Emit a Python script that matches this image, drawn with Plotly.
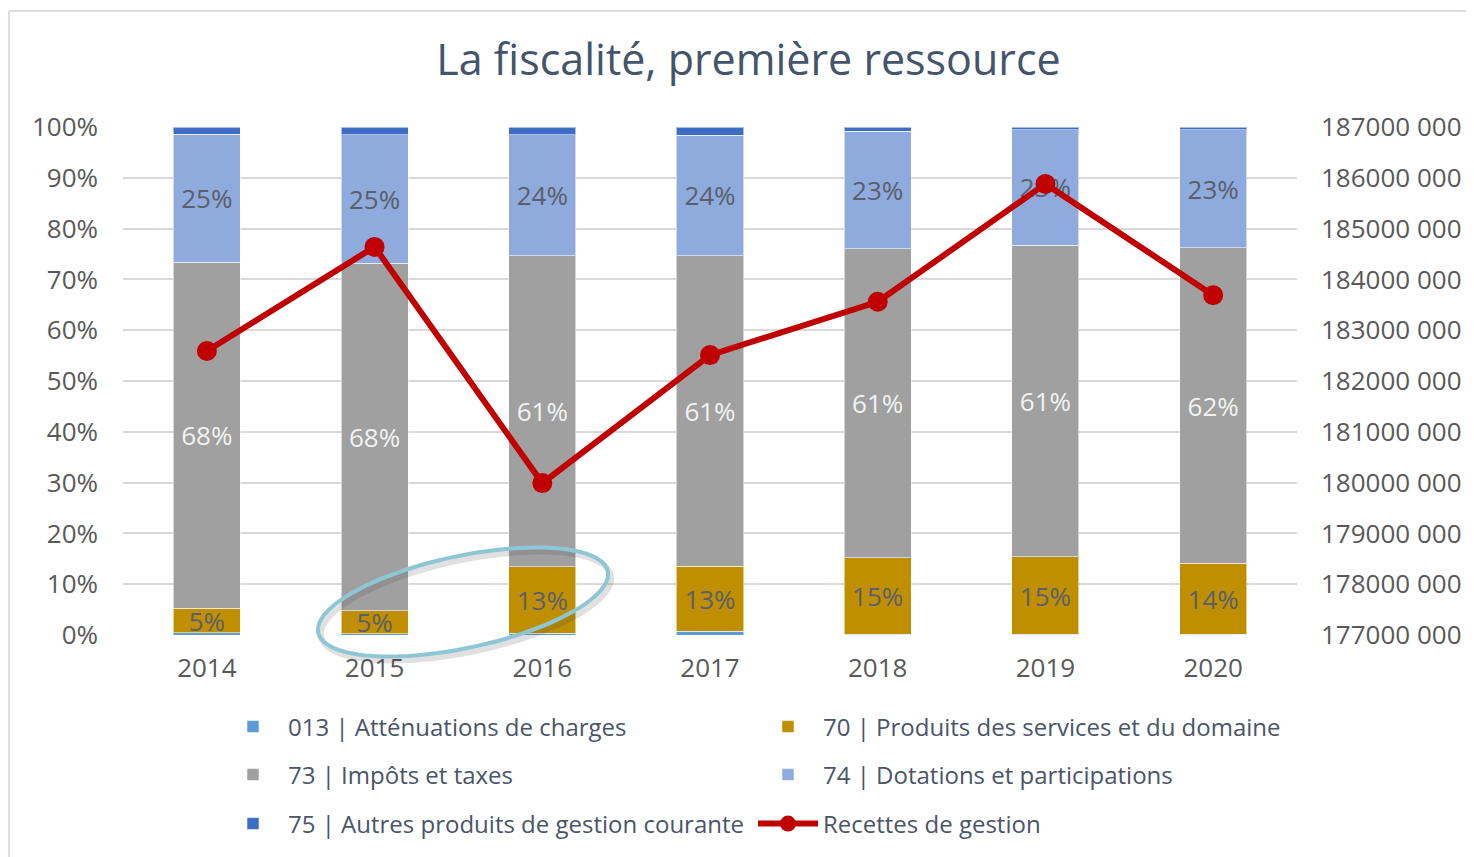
import math
import plotly.graph_objects as go

# ---------------- data ----------------
years = ["2014", "2015", "2016", "2017", "2018", "2019", "2020"]
att_013 = [0.4, 0.2, 0.3, 0.7, 0.1, 0.1, 0.1]          # % 013 | Atténuations de charges
prod_70 = [4.9, 4.6, 13.1, 12.8, 15.1, 15.3, 14.0]     # % 70 | Produits des services et du domaine
impots_73 = [68.1, 68.4, 61.3, 61.2, 60.8, 61.3, 62.1]  # % 73 | Impôts et taxes
dot_74 = [25.2, 25.3, 23.8, 23.7, 23.2, 22.8, 23.3]     # % 74 | Dotations et participations
autres_75 = [1.4, 1.5, 1.5, 1.6, 0.8, 0.5, 0.5]        # % 75 | Autres produits de gestion courante
recettes = [182590000, 184640000, 179990000, 182510000, 183560000, 185880000, 183690000]

left_ticks = [0, 10, 20, 30, 40, 50, 60, 70, 80, 90, 100]
left_labels = [f"{v}%" for v in left_ticks]
right_ticks = [177000000, 178000000, 179000000, 180000000, 181000000, 182000000,
               183000000, 184000000, 185000000, 186000000, 187000000]
right_labels = [f"{v // 1000} {v % 1000:03d}" for v in right_ticks]

FONT = "Open Sans"
OFF = 8  # page body margin of the html page
W, H = 1466, 849
L, T = 123 - OFF, 127 - OFF
R = W - (1297 - OFF)
B = H - (635 - OFF)
PW, PH = W - L - R, H - T - B


def px(x):  # page pixel -> paper x
    return (x - OFF - L) / PW


def py(y):  # page pixel -> paper y
    return (H - B - (y - OFF)) / PH


def pct_text(vals):
    return [f"{round(v)}%" for v in vals]


fig = go.Figure()
edge = dict(color="rgba(255,255,255,0.55)", width=1)
lab_dark = dict(family=FONT, size=26, color="#5A5F6B")
lab_light = dict(family=FONT, size=26, color="#F2F2F2")

fig.add_trace(go.Bar(x=years, y=att_013, name="013 | Atténuations de charges",
                     marker=dict(color="#5B9BD5", line=edge), legend="legend"))
fig.add_trace(go.Bar(x=years, y=prod_70, name="70 | Produits des services et du domaine",
                     marker=dict(color="#BF8F00", line=edge), legend="legend",
                     text=pct_text(prod_70), textposition="inside", insidetextanchor="middle",
                     constraintext="none", textangle=0, textfont=lab_dark))
fig.add_trace(go.Bar(x=years, y=impots_73, name="73 | Impôts et taxes",
                     marker=dict(color="#A0A0A0", line=edge), legend="legend2",
                     text=pct_text(impots_73), textposition="inside", insidetextanchor="middle",
                     constraintext="none", textangle=0, textfont=lab_light))
fig.add_trace(go.Bar(x=years, y=dot_74, name="74 | Dotations et participations",
                     marker=dict(color="#8FAADC", line=edge), legend="legend2",
                     text=pct_text(dot_74), textposition="inside", insidetextanchor="middle",
                     constraintext="none", textangle=0, textfont=lab_dark))
fig.add_trace(go.Bar(x=years, y=autres_75, name="75 | Autres produits de gestion courante",
                     marker=dict(color="#3F6CC4", line=edge), legend="legend3"))
fig.add_trace(go.Scatter(x=years, y=recettes, name="Recettes de gestion", yaxis="y2",
                         mode="lines+markers", legend="legend3",
                         line=dict(color="#C00000", width=6),
                         marker=dict(color="#C00000", size=20)))


# ----- ellipse highlight (pixel geometry -> paper coords) -----
def ellipse_path(cx, cy, a, b, theta_deg, dx=0, dy=0, n=90):
    th = math.radians(theta_deg)
    pts = []
    for i in range(n + 1):
        phi = 2 * math.pi * i / n
        X = cx + dx + a * math.cos(phi) * math.cos(th) - b * math.sin(phi) * math.sin(th)
        Y = cy + dy - (a * math.cos(phi) * math.sin(th) + b * math.sin(phi) * math.cos(th))
        pts.append(f"{px(X):.5f},{py(Y):.5f}")
    return "M" + " L".join(pts) + " Z"


shapes = [
    dict(type="line", xref="paper", yref="paper", x0=px(9), x1=px(1490), y0=py(11), y1=py(11),
         line=dict(color="#D9DEE6", width=2)),
    dict(type="line", xref="paper", yref="paper", x0=px(9), x1=px(9), y0=py(11), y1=py(870),
         line=dict(color="#D9DEE6", width=2)),
    dict(type="path", xref="paper", yref="paper", path=ellipse_path(463, 602, 148, 46, 12, 3, 4),
         line=dict(color="rgba(60,60,60,0.16)", width=6), layer="above"),
    dict(type="path", xref="paper", yref="paper", path=ellipse_path(463, 602, 148, 46, 12),
         line=dict(color="#8DC7D6", width=4), layer="above"),
]

legend_common = dict(orientation="h", font=dict(family=FONT, size=24, color="#4A5568"),
                     bgcolor="rgba(0,0,0,0)", traceorder="normal", itemwidth=60,
                     entrywidth=460, entrywidthmode="pixels", xanchor="left", yanchor="middle")

tickfont = dict(family=FONT, size=26, color="#595959")

fig.update_layout(
    width=W, height=H,
    template="none",
    paper_bgcolor="white", plot_bgcolor="white",
    margin=dict(l=L, r=R, t=T, b=B, autoexpand=False),
    barmode="stack", bargap=0.6,
    title=dict(text="La fiscalité, première ressource", xref="container", yref="container",
               x=(748.5 - OFF) / W, y=1 - (60 - OFF) / H, xanchor="center", yanchor="middle",
               font=dict(family=FONT, size=43, color="#44546A")),
    font=dict(family=FONT),
    xaxis=dict(type="category", showgrid=False, showline=False, zeroline=False, automargin=False,
               ticks="", tickfont=tickfont, ticklabelstandoff=15),
    yaxis=dict(range=[0, 100], tickvals=left_ticks, ticktext=left_labels, showgrid=True,
               gridcolor="#D9D9D9", gridwidth=1.5, zeroline=False, showline=False, automargin=False,
               ticks="", tickfont=tickfont, ticklabelstandoff=24),
    yaxis2=dict(overlaying="y", side="right", range=[177000000, 187000000],
                tickvals=right_ticks, ticktext=right_labels, showgrid=False, zeroline=False,
                showline=False, automargin=False, ticks="",
                tickfont=tickfont, ticklabelstandoff=23),
    legend=dict(**legend_common, x=px(218), y=py(727)),
    legend2=dict(**legend_common, x=px(218), y=py(775)),
    legend3=dict(**legend_common, x=px(218), y=py(824)),
    shapes=shapes,
    showlegend=True,
)

fig.write_html("out.html")
